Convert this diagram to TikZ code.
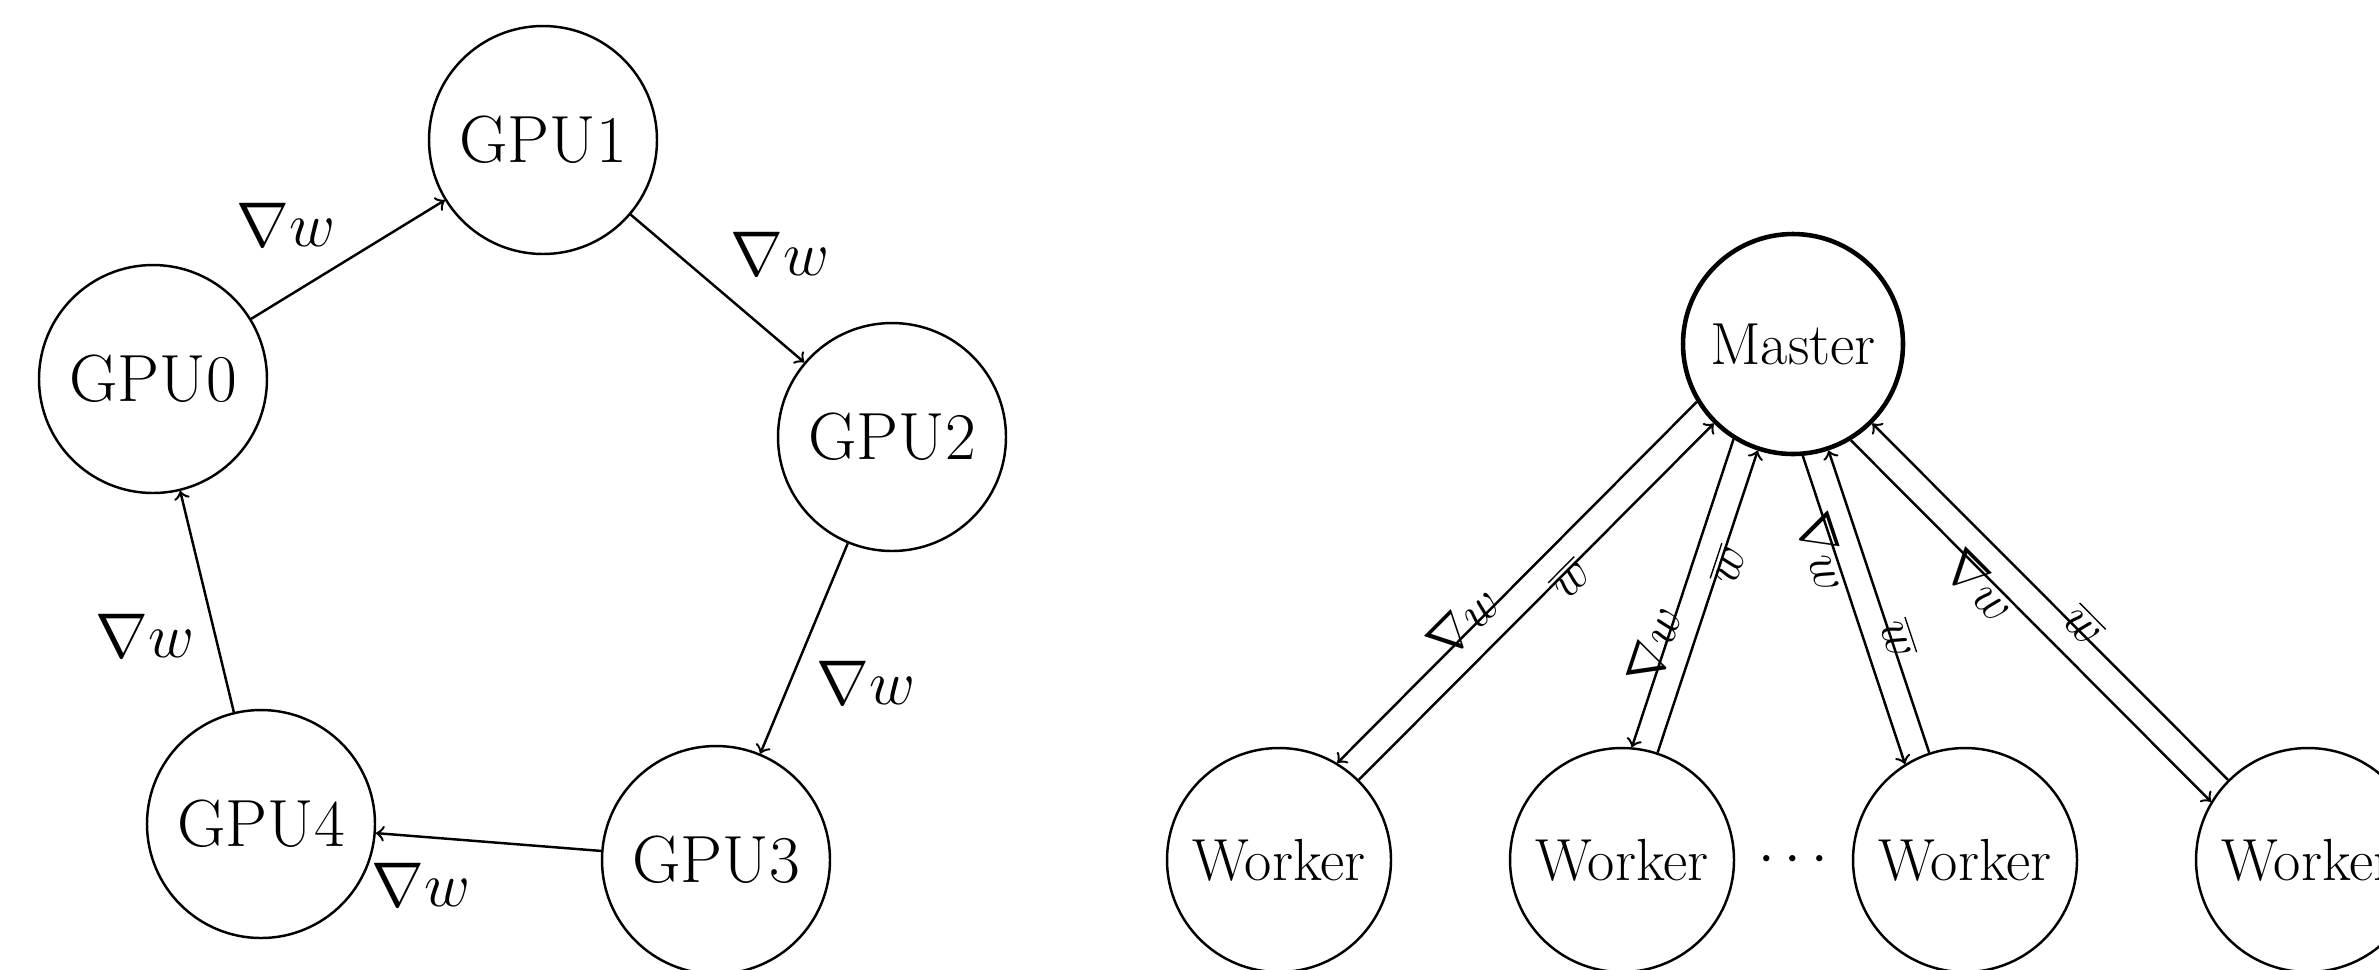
\RequirePackage{fix-cm}
\documentclass[tikz,border=0pt]{standalone}

\begin{document}
\begin{tikzpicture}[
  gpu/.style={circle,draw,minimum size=2.28cm,inner sep=0pt,line width=0.7pt,font=\fontsize{19}{22}\selectfont},
  master/.style={circle,draw,minimum size=2.2cm,inner sep=0pt,line width=1.3pt,font=\fontsize{16.9}{20}\selectfont},
  worker/.style={circle,draw,minimum size=2.24cm,inner sep=0pt,line width=0.7pt,font=\fontsize{16.9}{20}\selectfont},
  link/.style={->,line width=0.7pt},
  grad/.style={font=\fontsize{18}{21}\selectfont},
  msg/.style={sloped,inner sep=0pt,outer sep=-2pt,font=\fontsize{14.5}{17}\selectfont}
]
\path[use as bounding box,clip] (0,0) rectangle (23.79,-9.69);

% ring all-reduce
\node[gpu] (G0) at (1.53,-3.79) {GPU0};
\node[gpu] (G1) at (5.43,-1.40) {GPU1};
\node[gpu] (G2) at (8.92,-4.37) {GPU2};
\node[gpu] (G3) at (7.16,-8.60) {GPU3};
\node[gpu] (G4) at (2.61,-8.24) {GPU4};

\draw[link] (G0)--node[grad,above left]{$\nabla w$}(G1);
\draw[link] (G1)--node[grad,above right]{$\nabla w$}(G2);
\draw[link] (G2)--node[grad,below right]{$\nabla w$}(G3);
\draw[link] (G3)--node[grad,below=4pt,pos=0.8]{$\nabla w$}(G4);
\draw[link] (G4)--node[grad,below left]{$\nabla w$}(G0);

% parameter server
\node[master] (M) at (17.93,-3.44) {Master};
\node[worker] (W1) at (12.79,-8.60) {Worker};
\node[worker] (W2) at (16.22,-8.60) {Worker};
\node[worker] (W3) at (19.65,-8.60) {Worker};
\node[worker] (W4) at (23.08,-8.60) {Worker};
\node[font=\fontsize{16.9}{20}\selectfont] (dots) at (17.93,-8.60) {$\cdots$};

\draw[link] (M.211)--node[msg,pos=0.63,above]{$\nabla w$}(W1.59);
\draw[link] (W1)--node[msg,pos=0.58,below]{$\overline{w}$}(M);
\draw[link] (M.238)--node[msg,pos=0.68,above]{$\nabla w$}(W2.85);
\draw[link] (W2)--node[msg,pos=0.63,below]{$\overline{w}$}(M);
\draw[link] (M.275)--node[msg,pos=0.30,below]{$\nabla w$}(W3.122);
\draw[link] (W3)--node[msg,pos=0.37,above]{$\overline{w}$}(M);
\draw[link] (M.301)--node[msg,pos=0.38,below]{$\nabla w$}(W4.149);
\draw[link] (W4)--node[msg,pos=0.42,above]{$\overline{w}$}(M);
\end{tikzpicture}
\end{document}
